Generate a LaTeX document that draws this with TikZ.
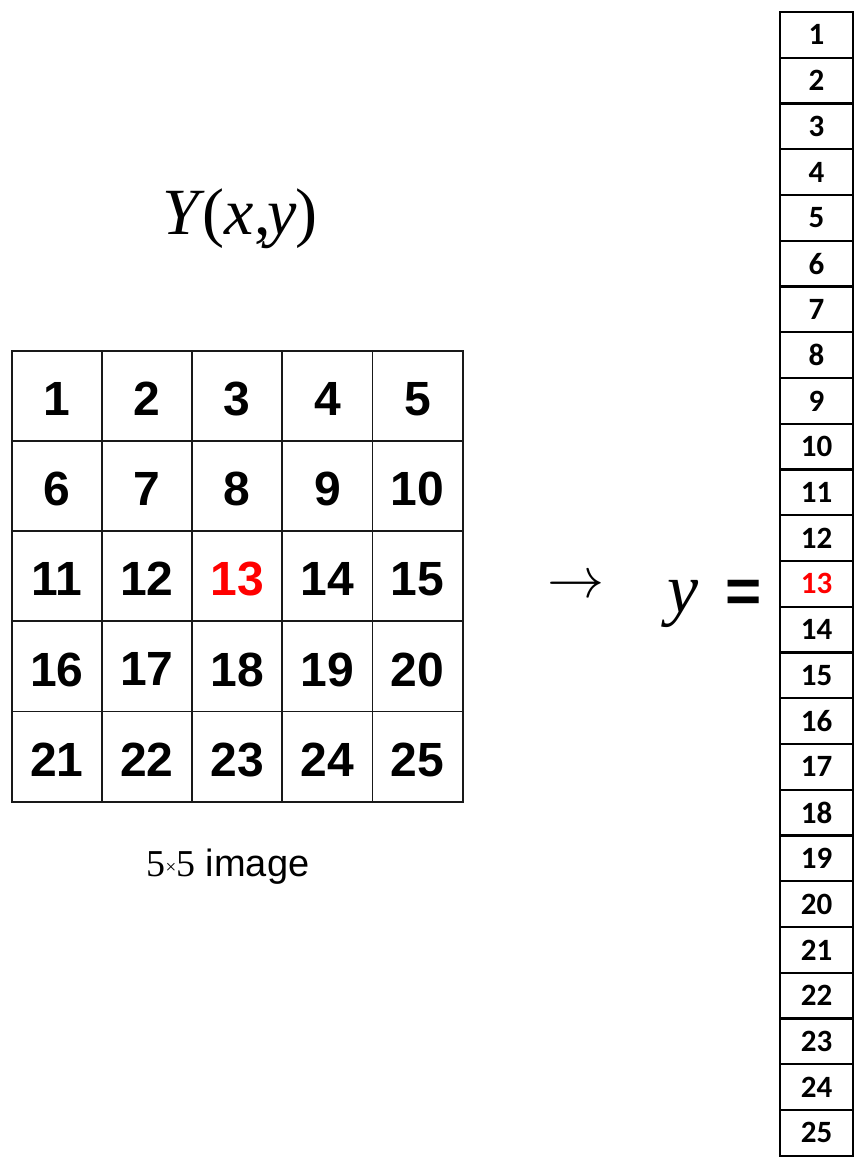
\documentclass[tikz,border=0pt]{standalone}
\usepackage{fontspec}
\setmainfont{Liberation Sans}
\newfontfamily\calib{Carlito}
\newfontfamily\tms{Liberation Serif}
\begin{document}
\begin{tikzpicture}[x=1pt,y=-1pt,
  gcell/.style={draw=black!90, line width=1.8pt, minimum width=90.2pt, minimum height=90.2pt, inner sep=0pt, text depth=0pt, font=\fontsize{48}{48}\selectfont\bfseries},
  vcell/.style={draw=black, line width=2.4pt, minimum width=73pt, minimum height=45.75pt, inner sep=0pt, font=\calib\fontsize{31}{31}\selectfont\bfseries},
  lbl/.style={inner sep=0pt, anchor=base}]
\useasboundingbox (0,0) rectangle (861,1158);
\foreach \i in {1,...,5}{
  \foreach \j in {1,...,5}{
    \pgfmathtruncatemacro\n{(\i-1)*5+\j}
    \ifnum\n=13 \def\tc{red}\else\def\tc{black}\fi
    \node[gcell, text=\tc] (g\n) at ({11.7+90.2*(\j-0.5)},{350.7+90.2*(\i-0.5)}) {\raisebox{-6pt}{\n}};
  }
}
\foreach \n in {1,...,25}{
  \ifnum\n=13 \def\tc{red}\else\def\tc{black}\fi
  \node[vcell, text=\tc] (v\n) at (816.5,{12+45.75*(\n-0.5)}) {\n};
}
\node[lbl] (title) at (240,235) {\tms\fontsize{66}{66}\selectfont\textit{Y}\kern-2pt(\textit{x},\kern-3pt\textit{y}\kern-1pt)};
\node[lbl] (cap) at (228,876) {\fontsize{38}{38}\selectfont{\tms 5{\fontsize{19}{19}\selectfont\raisebox{3pt}{×}}5} image};
\node[lbl] (arr) at (576,597) {\scalebox{5.7}{$\rightarrow$}};
\node[lbl] (yv) at (683,612) {\tms\fontsize{70}{70}\selectfont\textit{y}};
\node[lbl] (eq) at (744,612) {\fontsize{62}{62}\selectfont\bfseries =};
\end{tikzpicture}
\end{document}
